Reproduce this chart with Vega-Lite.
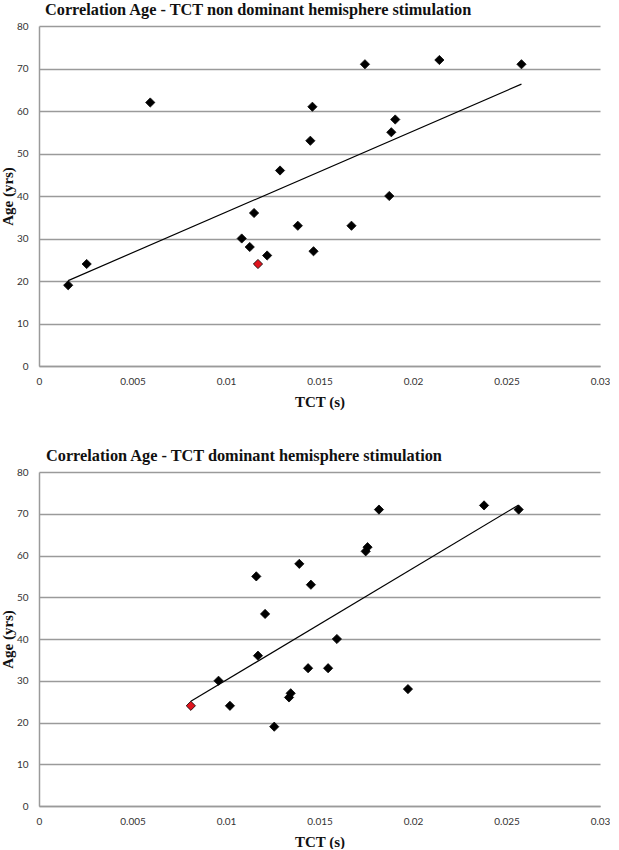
{
  "$schema": "https://vega.github.io/schema/vega-lite/v6.json",
  "padding": {"left": 0, "top": 2, "right": 0, "bottom": 0},
  "background": "white",
  "spacing": 38,
  "datasets": {
    "nondominant": [
      {"tct": 0.00595, "age": 62, "group": "other"},
      {"tct": 0.01743, "age": 71, "group": "other"},
      {"tct": 0.02141, "age": 72, "group": "other"},
      {"tct": 0.0258, "age": 71, "group": "other"},
      {"tct": 0.01462, "age": 61, "group": "other"},
      {"tct": 0.01905, "age": 58, "group": "other"},
      {"tct": 0.01884, "age": 55, "group": "other"},
      {"tct": 0.01451, "age": 53, "group": "other"},
      {"tct": 0.01289, "age": 46, "group": "other"},
      {"tct": 0.01873, "age": 40, "group": "other"},
      {"tct": 0.0115, "age": 36, "group": "other"},
      {"tct": 0.01384, "age": 33, "group": "other"},
      {"tct": 0.01671, "age": 33, "group": "other"},
      {"tct": 0.01084, "age": 30, "group": "other"},
      {"tct": 0.01127, "age": 28, "group": "other"},
      {"tct": 0.0122, "age": 26, "group": "other"},
      {"tct": 0.01468, "age": 27, "group": "other"},
      {"tct": 0.01171, "age": 24, "group": "highlight"},
      {"tct": 0.00255, "age": 24, "group": "other"},
      {"tct": 0.00156, "age": 19, "group": "other"}
    ],
    "dominant": [
      {"tct": 0.0238, "age": 72, "group": "other"},
      {"tct": 0.02565, "age": 71, "group": "other"},
      {"tct": 0.01818, "age": 71, "group": "other"},
      {"tct": 0.01757, "age": 62, "group": "other"},
      {"tct": 0.01747, "age": 61, "group": "other"},
      {"tct": 0.01392, "age": 58, "group": "other"},
      {"tct": 0.01162, "age": 55, "group": "other"},
      {"tct": 0.01454, "age": 53, "group": "other"},
      {"tct": 0.01209, "age": 46, "group": "other"},
      {"tct": 0.01593, "age": 40, "group": "other"},
      {"tct": 0.01171, "age": 36, "group": "other"},
      {"tct": 0.01439, "age": 33, "group": "other"},
      {"tct": 0.01546, "age": 33, "group": "other"},
      {"tct": 0.0096, "age": 30, "group": "other"},
      {"tct": 0.01346, "age": 27, "group": "other"},
      {"tct": 0.01337, "age": 26, "group": "other"},
      {"tct": 0.01973, "age": 28, "group": "other"},
      {"tct": 0.01021, "age": 24, "group": "other"},
      {"tct": 0.01258, "age": 19, "group": "other"},
      {"tct": 0.00812, "age": 24, "group": "highlight"}
    ]
  },
  "config": {
    "view": {"stroke": null},
    "axis": {
      "labelFont": "Lato",
      "labelFontSize": 10,
      "labelColor": "#333333",
      "labelFlush": false,
      "titleFont": "Liberation Serif",
      "titleFontSize": 15,
      "titleFontWeight": "bold",
      "titleColor": "#111111",
      "domainColor": "#9a9a9a",
      "domainWidth": 1.5,
      "gridColor": "#9a9a9a",
      "gridWidth": 1.5,
      "ticks": false
    },
    "title": {
      "font": "Liberation Serif",
      "fontSize": 16.3,
      "fontWeight": "bold",
      "color": "#111111",
      "anchor": "start",
      "frame": "group",
      "baseline": "alphabetic"
    }
  },
  "vconcat": [
    {
      "title": {"text": "Correlation Age - TCT non dominant hemisphere stimulation", "dx": 6, "offset": 2.5},
      "width": 561,
      "height": 340,
      "data": {"name": "nondominant"},
      "encoding": {
        "x": {"field": "tct", "type": "quantitative", "title": "TCT (s)",
          "scale": {"domain": [0, 0.03], "nice": false},
          "axis": {"values": [0, 0.005, 0.01, 0.015, 0.02, 0.025, 0.03], "format": "~g", "grid": false, "labelPadding": 10, "titlePadding": 8}},
        "y": {"field": "age", "type": "quantitative", "title": "Age (yrs)",
          "scale": {"domain": [0, 80], "nice": false},
          "axis": {"values": [0, 10, 20, 30, 40, 50, 60, 70, 80], "format": "d", "labelPadding": 11, "titlePadding": 1}}
      },
      "layer": [
        {
          "transform": [{"regression": "age", "on": "tct"}],
          "mark": {"type": "line", "color": "#000000", "strokeWidth": 1.2}
        },
        {
          "mark": {"type": "point", "shape": "diamond", "filled": true, "size": 85, "stroke": "#000000", "strokeWidth": 0.8, "opacity": 1},
          "encoding": {
            "color": {"field": "group", "type": "nominal", "scale": {"domain": ["other", "highlight"], "range": ["#000000", "#e0141e"]}, "legend": null}
          }
        }
      ]
    },
    {
      "title": {"text": "Correlation Age - TCT dominant hemisphere stimulation", "dx": 7, "offset": 3},
      "width": 561,
      "height": 334,
      "data": {"name": "dominant"},
      "encoding": {
        "x": {"field": "tct", "type": "quantitative", "title": "TCT (s)",
          "scale": {"domain": [0, 0.03], "nice": false},
          "axis": {"values": [0, 0.005, 0.01, 0.015, 0.02, 0.025, 0.03], "format": "~g", "grid": false, "labelPadding": 10, "titlePadding": 8}},
        "y": {"field": "age", "type": "quantitative", "title": "Age (yrs)",
          "scale": {"domain": [0, 80], "nice": false},
          "axis": {"values": [0, 10, 20, 30, 40, 50, 60, 70, 80], "format": "d", "labelPadding": 11, "titlePadding": 1}}
      },
      "layer": [
        {
          "transform": [{"regression": "age", "on": "tct"}],
          "mark": {"type": "line", "color": "#000000", "strokeWidth": 1.2}
        },
        {
          "mark": {"type": "point", "shape": "diamond", "filled": true, "size": 85, "stroke": "#000000", "strokeWidth": 0.8, "opacity": 1},
          "encoding": {
            "color": {"field": "group", "type": "nominal", "scale": {"domain": ["other", "highlight"], "range": ["#000000", "#e0141e"]}, "legend": null}
          }
        }
      ]
    }
  ]
}
